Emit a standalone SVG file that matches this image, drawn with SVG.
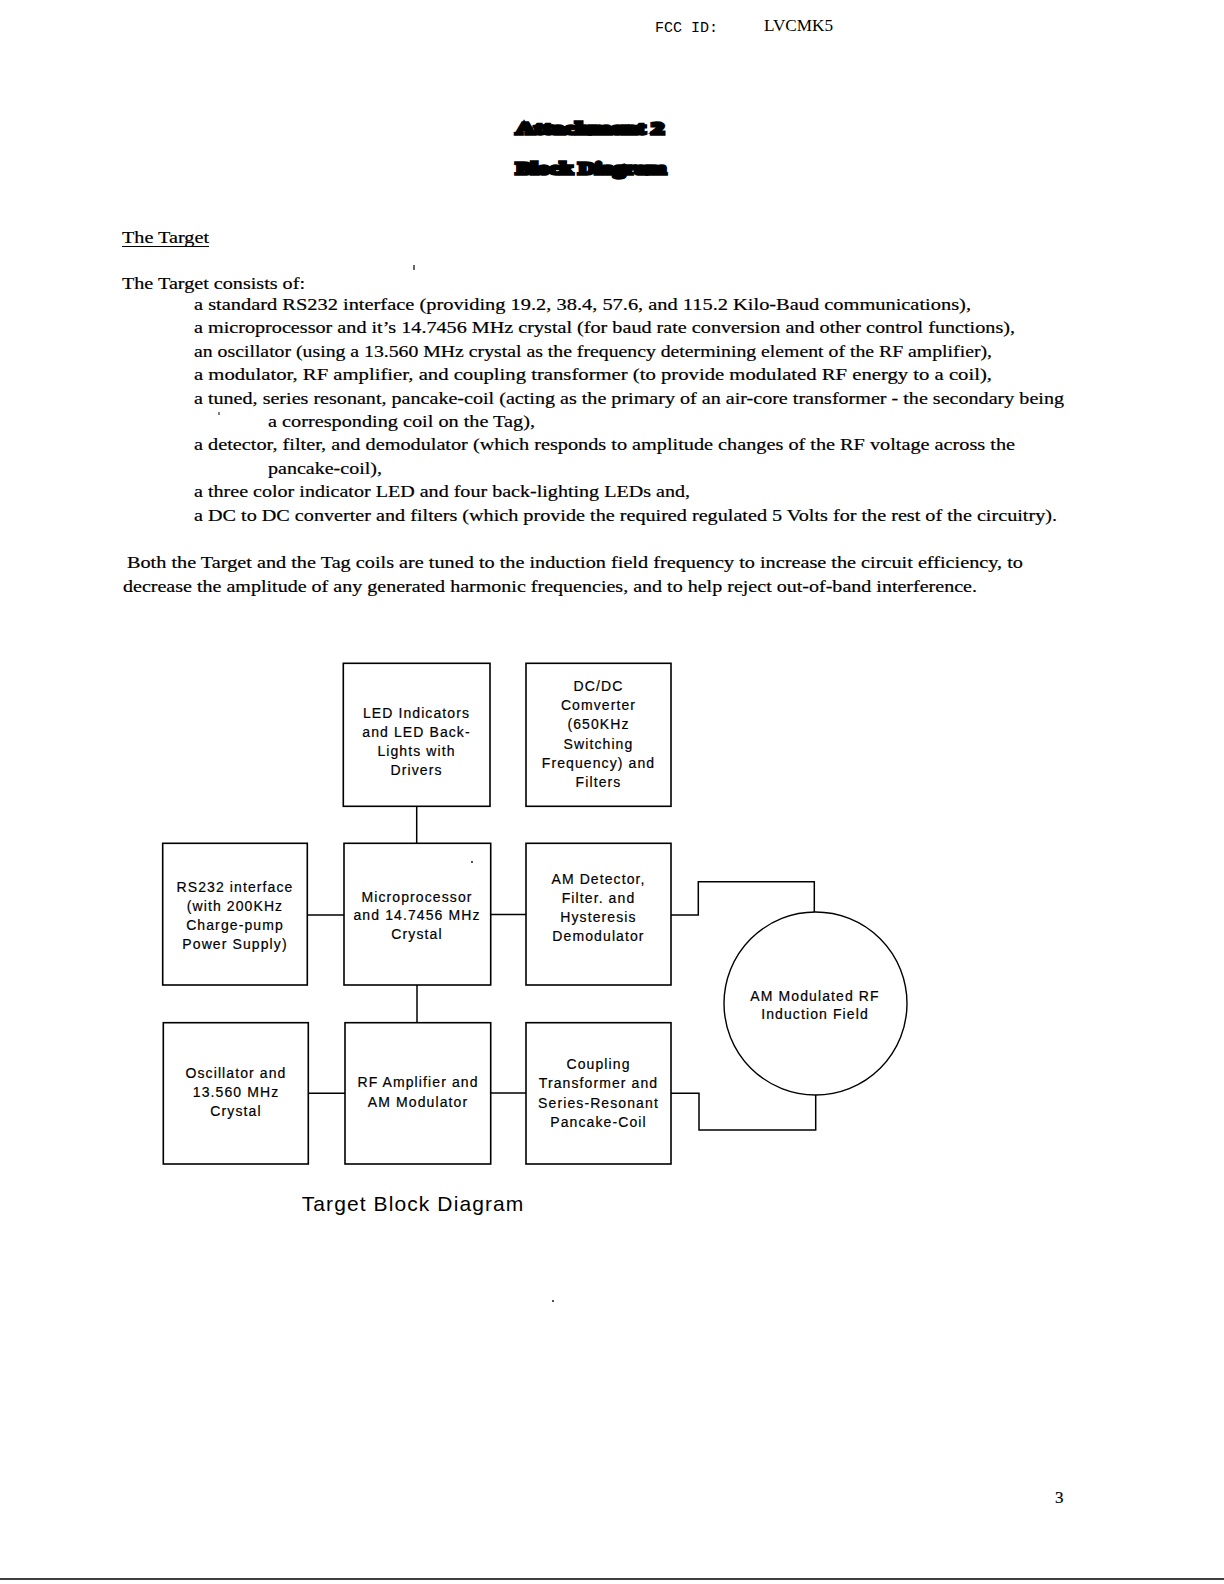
<svg xmlns="http://www.w3.org/2000/svg" width="1224" height="1584" viewBox="0 0 1224 1584">
<style>
.body{font-family:"Liberation Serif","Times New Roman",serif;font-size:17px;fill:#000;stroke:#000;stroke-width:0.2}
.mono{font-family:"Liberation Mono","Courier New",monospace;font-size:15px;fill:#000}
.blob{font-family:"Liberation Serif",serif;font-weight:bold;font-size:17px;fill:#000;stroke:#000;stroke-width:3.4}
.box{fill:#fff;stroke:#000;stroke-width:1.6}
.lbl{font-family:"Liberation Sans",Arial,sans-serif;font-size:14px;letter-spacing:1.1px;fill:#000;stroke:#000;stroke-width:0.2;text-anchor:middle}
.conn{fill:none;stroke:#000;stroke-width:1.5}
.title{font-family:"Liberation Sans",Arial,sans-serif;font-size:21px;letter-spacing:1.1px;fill:#000}
</style>
<rect width="1224" height="1584" fill="#fff"/>

<g id="header">
<text class="mono" x="655" y="32">FCC ID:</text>
<text x="764" y="31" font-family="Liberation Serif,serif" font-size="16" textLength="69" lengthAdjust="spacingAndGlyphs">LVCMK5</text>
<text class="blob" x="516" y="134" textLength="148" lengthAdjust="spacingAndGlyphs">Attachment 2</text>
<text class="blob" x="516" y="174" textLength="150" lengthAdjust="spacingAndGlyphs">Block Diagram</text>
</g>

<g id="text">
<text class="body" x="122" y="243" textLength="87" lengthAdjust="spacingAndGlyphs">The Target</text>
<line x1="122" y1="246.5" x2="209" y2="246.5" stroke="#000" stroke-width="1.2"/>
<line x1="414" y1="265" x2="414" y2="270" stroke="#000" stroke-width="1.2"/>
<text class="body" x="122" y="289" textLength="183" lengthAdjust="spacingAndGlyphs">The Target consists of:</text>
<text class="body" x="194" y="310" textLength="777" lengthAdjust="spacingAndGlyphs">a standard RS232 interface (providing 19.2, 38.4, 57.6, and 115.2 Kilo-Baud communications),</text>
<text class="body" x="194" y="333.4" textLength="821" lengthAdjust="spacingAndGlyphs">a microprocessor and it’s 14.7456 MHz crystal (for baud rate conversion and other control functions),</text>
<text class="body" x="194" y="356.8" textLength="798" lengthAdjust="spacingAndGlyphs">an oscillator (using a 13.560 MHz crystal as the frequency determining element of the RF amplifier),</text>
<text class="body" x="194" y="380.2" textLength="798" lengthAdjust="spacingAndGlyphs">a modulator, RF amplifier, and coupling transformer (to provide modulated RF energy to a coil),</text>
<text class="body" x="194" y="403.6" textLength="870" lengthAdjust="spacingAndGlyphs">a tuned, series resonant, pancake-coil (acting as the primary of an air-core transformer - the secondary being</text>
<line x1="219" y1="412" x2="219" y2="415" stroke="#000" stroke-width="1"/>
<text class="body" x="268" y="427" textLength="267" lengthAdjust="spacingAndGlyphs">a corresponding coil on the Tag),</text>
<text class="body" x="194" y="450.4" textLength="821" lengthAdjust="spacingAndGlyphs">a detector, filter, and demodulator  (which responds to amplitude changes of the RF voltage across the</text>
<text class="body" x="268" y="473.8" textLength="114" lengthAdjust="spacingAndGlyphs">pancake-coil),</text>
<text class="body" x="194" y="497.2" textLength="496" lengthAdjust="spacingAndGlyphs">a three color indicator LED and four back-lighting LEDs and,</text>
<text class="body" x="194" y="520.6" textLength="863" lengthAdjust="spacingAndGlyphs">a DC to DC converter and filters (which provide the required regulated 5 Volts for the rest of the circuitry).</text>
<text class="body" x="127" y="568" textLength="896" lengthAdjust="spacingAndGlyphs">Both the Target and the Tag coils are tuned to the induction field frequency to increase the circuit efficiency, to</text>
<text class="body" x="123" y="591.5" textLength="854" lengthAdjust="spacingAndGlyphs">decrease the amplitude of any generated harmonic frequencies, and to help reject out-of-band interference.</text>
</g>

<g id="connectors">
<line class="conn" x1="416.7" y1="806" x2="416.7" y2="843.5"/>
<line class="conn" x1="417" y1="985" x2="417" y2="1022.7"/>
<line class="conn" x1="307.5" y1="915" x2="344" y2="915"/>
<line class="conn" x1="490.7" y1="914.5" x2="526" y2="914.5" stroke-width="2"/>
<line class="conn" x1="308.3" y1="1093.3" x2="345" y2="1093.3" stroke-width="2.6"/>
<line class="conn" x1="490.7" y1="1093" x2="526" y2="1093"/>
<polyline class="conn" points="671,915 698.3,915 698.3,881.7 814.3,881.7 814.3,912"/>
<polyline class="conn" points="671,1093.3 699,1093.3 699,1130 815.7,1130 815.7,1095"/>
</g>

<g id="led">
<rect class="box" x="343.3" y="663.3" width="146.7" height="143"/>
<text class="lbl" x="416.5" y="718">LED Indicators</text>
<text class="lbl" x="416.5" y="737">and LED Back-</text>
<text class="lbl" x="416.5" y="756">Lights with</text>
<text class="lbl" x="416.5" y="775">Drivers</text>
</g>

<g id="dcdc">
<rect class="box" x="526" y="663.3" width="145" height="143"/>
<text class="lbl" x="598.5" y="691">DC/DC</text>
<text class="lbl" x="598.5" y="710.2">Comverter</text>
<text class="lbl" x="598.5" y="729.4">(650KHz</text>
<text class="lbl" x="598.5" y="748.6">Switching</text>
<text class="lbl" x="598.5" y="767.8">Frequency) and</text>
<text class="lbl" x="598.5" y="787">Filters</text>
</g>

<g id="rs232">
<rect class="box" x="162.7" y="843.3" width="144.6" height="141.7"/>
<text class="lbl" x="235" y="891.7">RS232 interface</text>
<text class="lbl" x="235" y="911">(with 200KHz</text>
<text class="lbl" x="235" y="930">Charge-pump</text>
<text class="lbl" x="235" y="949">Power Supply)</text>
</g>

<g id="micro">
<rect class="box" x="344" y="843.3" width="146.7" height="141.7"/>
<text class="lbl" x="417" y="901.7">Microprocessor</text>
<text class="lbl" x="417" y="920">and 14.7456 MHz</text>
<text class="lbl" x="417" y="938.5">Crystal</text>
<circle cx="472" cy="862" r="0.9" fill="#000"/>
</g>

<g id="amdet">
<rect class="box" x="526" y="843.3" width="145" height="141.7"/>
<text class="lbl" x="598.5" y="884">AM Detector,</text>
<text class="lbl" x="598.5" y="903">Filter. and</text>
<text class="lbl" x="598.5" y="922">Hysteresis</text>
<text class="lbl" x="598.5" y="941">Demodulator</text>
</g>

<g id="osc">
<rect class="box" x="163.3" y="1022.7" width="145" height="141.3"/>
<text class="lbl" x="236" y="1078">Oscillator and</text>
<text class="lbl" x="236" y="1097">13.560 MHz</text>
<text class="lbl" x="236" y="1116">Crystal</text>
</g>

<g id="rfamp">
<rect class="box" x="345" y="1022.7" width="145.7" height="141.3"/>
<text class="lbl" x="418" y="1087.3">RF Amplifier and</text>
<text class="lbl" x="418" y="1107.3">AM Modulator</text>
</g>

<g id="coupling">
<rect class="box" x="526" y="1022.7" width="145" height="141.3"/>
<text class="lbl" x="598.5" y="1068.5">Coupling</text>
<text class="lbl" x="598.5" y="1088">Transformer and</text>
<text class="lbl" x="598.5" y="1107.5">Series-Resonant</text>
<text class="lbl" x="598.5" y="1127">Pancake-Coil</text>
</g>

<g id="field">
<circle cx="815.5" cy="1003.5" r="91.5" fill="#fff" stroke="#000" stroke-width="1.4"/>
<text class="lbl" x="815" y="1000.7">AM Modulated RF</text>
<text class="lbl" x="815" y="1018.5">Induction Field</text>
</g>

<g id="footer">
<text class="title" x="301.7" y="1211">Target Block Diagram</text>
<circle cx="553" cy="1301" r="0.9" fill="#000"/>
<text class="body" x="1055" y="1503" font-size="18">3</text>
<line x1="0" y1="1579" x2="1224" y2="1579" stroke="#000" stroke-width="1.5"/>
</g>
</svg>
